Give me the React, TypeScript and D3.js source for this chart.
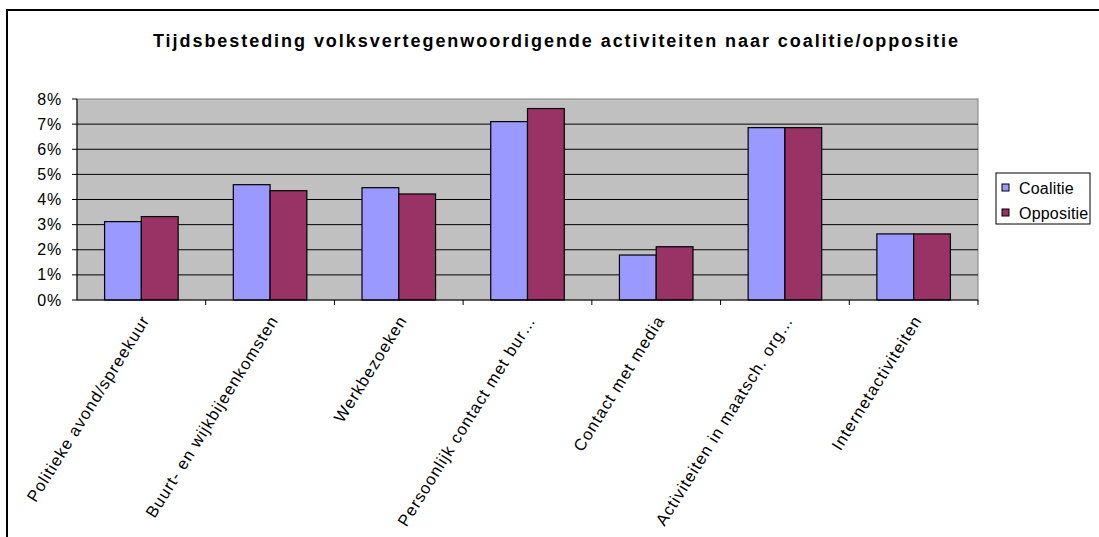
import React from "react";
import * as d3 from "d3";

const title = "Tijdsbesteding volksvertegenwoordigende activiteiten naar coalitie/oppositie";
const categories = [
  "Politieke avond/spreekuur",
  "Buurt- en wijkbijeenkomsten",
  "Werkbezoeken",
  "Persoonlijk contact met bur…",
  "Contact met media",
  "Activiteiten in maatsch. org…",
  "Internetactiviteiten",
];
const seriesNames = ["Coalitie", "Oppositie"];
const coalitie = [3.12, 4.59, 4.47, 7.1, 1.79, 6.86, 2.63];
const oppositie = [3.32, 4.35, 4.22, 7.62, 2.12, 6.86, 2.63];
const yTicks = [0, 1, 2, 3, 4, 5, 6, 7, 8];
const colors = ["#9999FF", "#993366"];

const W = 1099;
const H = 537;
const plot = { left: 77, right: 978, top: 99, bottom: 300 };
const FONT = "'Liberation Sans', Arial, sans-serif";

export default function App() {
  const x0 = d3
    .scaleBand<string>()
    .domain(categories)
    .range([plot.left, plot.right])
    .paddingInner(0)
    .paddingOuter(0);
  const bw = x0.bandwidth() / 3.5;
  const y = d3.scaleLinear().domain([0, 8]).range([plot.bottom, plot.top]);
  const values = [coalitie, oppositie];

  return (
    <svg
      width={W}
      height={H}
      style={{ position: "absolute", left: 0, top: 0, background: "#fff" }}
      fontFamily={FONT}
    >
      <rect x={7} y={10} width={W} height={H} fill="#fff" stroke="#000" strokeWidth={2} />
      <text
        x={555.5}
        y={47}
        textAnchor="middle"
        fontWeight="bold"
        fontSize={18}
        textLength={805}
        lengthAdjust="spacing"
        fill="#000"
      >
        {title}
      </text>

      <rect
        x={plot.left}
        y={plot.top}
        width={plot.right - plot.left}
        height={plot.bottom - plot.top}
        fill="#C0C0C0"
        stroke="#808080"
        strokeWidth={1}
      />
      {yTicks.map((t) => (
        <g key={t}>
          {t > 0 && t < 8 && (
            <line x1={plot.left} x2={plot.right} y1={y(t)} y2={y(t)} stroke="#000" strokeWidth={1} />
          )}
          <line x1={plot.left - 5} x2={plot.left} y1={y(t)} y2={y(t)} stroke="#000" />
          <text
            x={62}
            y={y(t) + 5.5}
            textAnchor="end"
            fontSize={16}
            letterSpacing={0.8}
            fill="#000"
          >
            {t}%
          </text>
        </g>
      ))}

      {categories.map((c, i) =>
        values.map((vals, s) => {
          const bx = (x0(c) as number) + bw * 0.75 + s * bw;
          return (
            <rect
              key={c + s}
              x={bx}
              y={y(vals[i])}
              width={bw}
              height={y(0) - y(vals[i])}
              fill={colors[s]}
              stroke="#000"
              strokeWidth={1.2}
            />
          );
        })
      )}

      <line x1={plot.left} x2={plot.left} y1={plot.top} y2={plot.bottom} stroke="#000" />
      <line x1={plot.left} x2={plot.right} y1={plot.bottom} y2={plot.bottom} stroke="#000" />
      {categories.map((c, i) => (
        <line
          key={"t" + i}
          x1={(x0(c) as number) + x0.bandwidth()}
          x2={(x0(c) as number) + x0.bandwidth()}
          y1={plot.bottom}
          y2={plot.bottom + 5}
          stroke="#000"
        />
      ))}
      {categories.map((c) => {
        const cx = (x0(c) as number) + x0.bandwidth() / 2;
        const cy = plot.bottom + 17;
        return (
          <text
            key={"l" + c}
            transform={`translate(${cx + 4},${cy}) rotate(-58)`}
            textAnchor="end"
            fontSize={16.5}
            letterSpacing={1.05}
            dy="0.35em"
            fill="#000"
          >
            {c}
          </text>
        );
      })}

      <rect x={996} y={173} width={94} height={51} fill="#fff" stroke="#000" strokeWidth={1} />
      {seriesNames.map((n, i) => (
        <g key={n}>
          <rect x={1002} y={184 + i * 25} width={7} height={7} fill={colors[i]} stroke="#000" />
          <text x={1019} y={194 + i * 25} fontSize={16} letterSpacing={0.2} fill="#000">
            {n}
          </text>
        </g>
      ))}
    </svg>
  );
}
